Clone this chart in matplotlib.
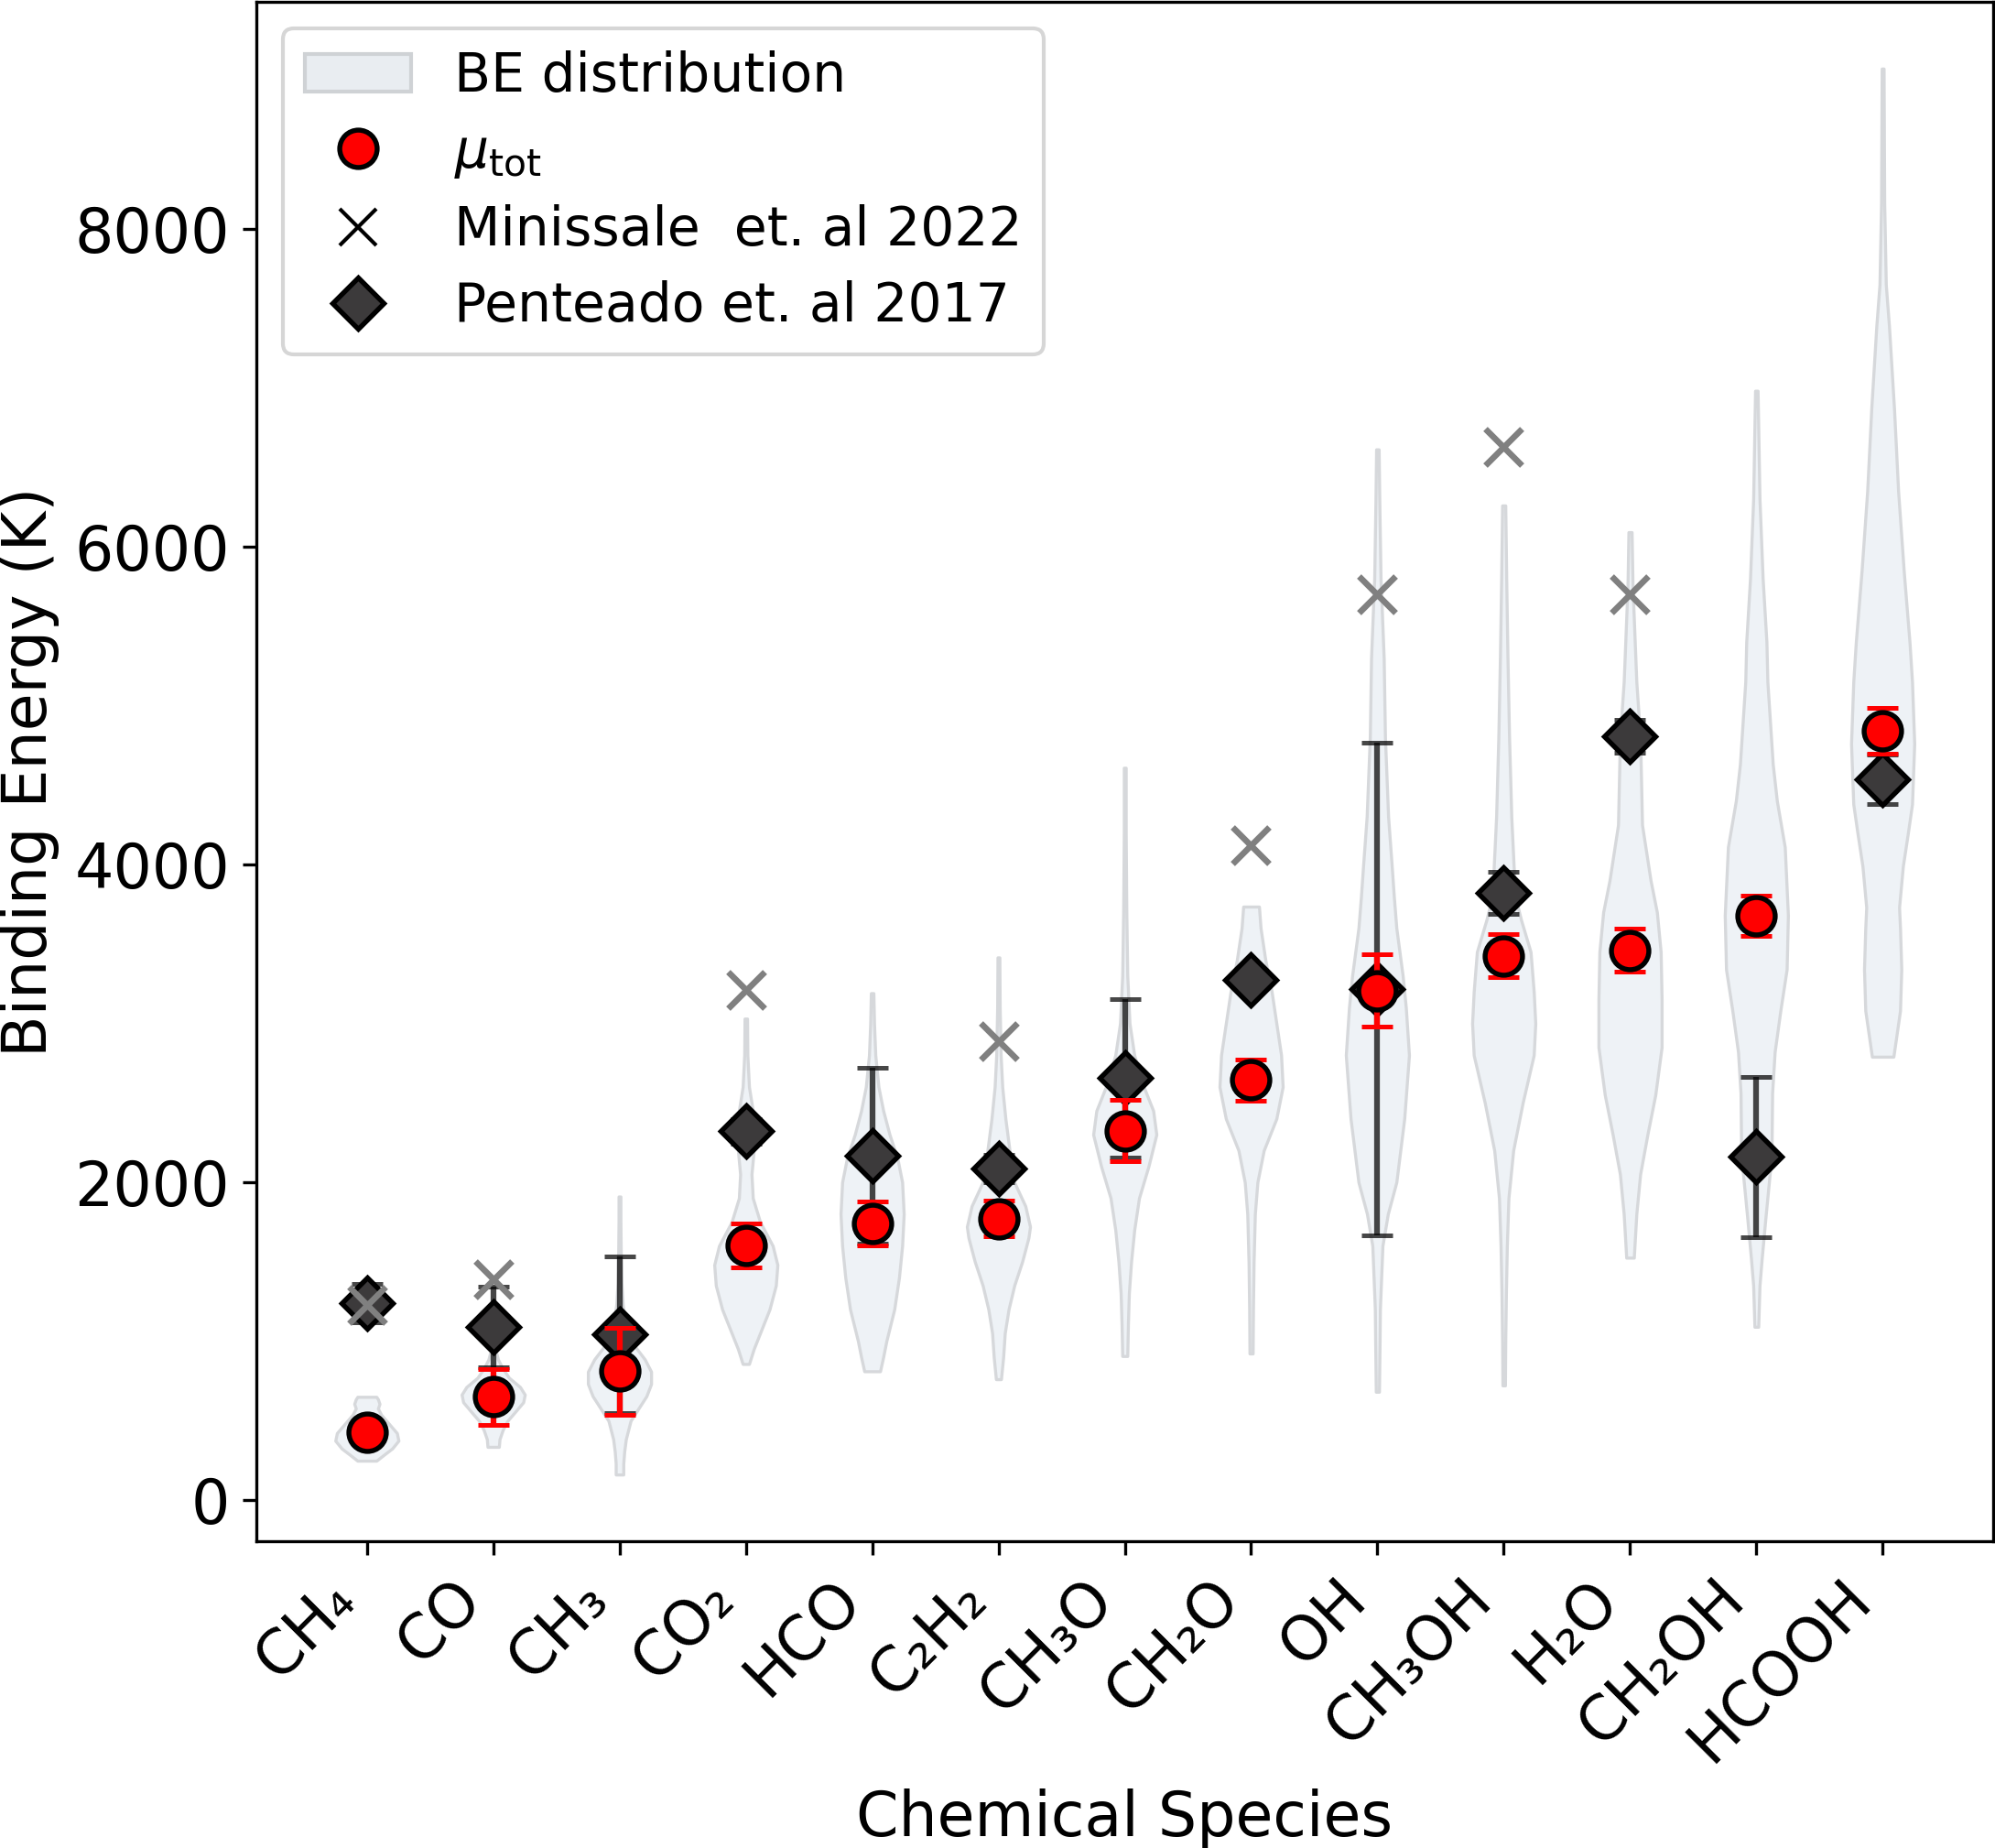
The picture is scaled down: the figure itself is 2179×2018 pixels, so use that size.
import numpy as np
import matplotlib
matplotlib.use('Agg')
import matplotlib.pyplot as plt
from matplotlib.lines import Line2D
from matplotlib.patches import Patch

# species on the x axis
species = ['CH₄', 'CO', 'CH₃', 'CO₂', 'HCO', 'C₂H₂', 'CH₃O', 'CH₂O',
           'OH', 'CH₃OH', 'H₂O', 'CH₂OH', 'HCOOH']

# mean binding energy (this work) and its error
mu_tot = [425, 649, 810, 1603, 1740, 1772, 2325, 2645, 3206, 3425, 3460, 3679, 4842]
mu_err = [70, 176, 275, 140, 137, 115, 195, 130, 228, 136, 137, 127, 145]

# literature values
minissale = [1230, 1390, np.nan, 3210, np.nan, 2890, np.nan, 4120,
             5700, 6630, 5700, np.nan, np.nan]
penteado = [1238, 1090, 1040, 2320, 2168, 2085, 2654, 3271, 3215, 3822, 4808, 2160, 4536]
penteado_err = [122, 255, 495, 77, 555, 87, 500, 60, 1550, 134, 103, 505, 153]

# BE distribution shapes: energy (K) and relative density
be_energy = {
    'CH₄': [247, 286, 324, 373, 421, 479, 537, 576, 605, 634, 649],
    'CO': [334, 382, 440, 498, 556, 615, 663, 711, 769, 827, 885, 924],
    'CH₃': [160, 228, 305, 382, 498, 576, 653, 730, 808, 885, 963, 1040, 1117,
            1233, 1369, 1562, 1755, 1910],
    'CO₂': [856, 950, 1050, 1200, 1350, 1480, 1600, 1750, 1900, 2050, 2200,
            2330, 2450, 2600, 2800, 3030],
    'HCO': [810, 900, 1000, 1200, 1400, 1600, 1800, 2000, 2150, 2300, 2450,
            2600, 2800, 3000, 3190],
    'C₂H₂': [760, 900, 1050, 1200, 1350, 1500, 1650, 1720, 1850, 2000, 2200,
             2400, 2600, 2800, 3100, 3415],
    'CH₃O': [906, 1100, 1300, 1500, 1700, 1900, 2100, 2300, 2450, 2600, 2800,
             3000, 3300, 3700, 4200, 4609],
    'CH₂O': [922, 1200, 1500, 1800, 2000, 2200, 2400, 2600, 2800, 3000, 3200,
             3400, 3600, 3735],
    'OH': [681, 1000, 1200, 1400, 1600, 1800, 2000, 2400, 2800, 3100, 3300,
           3600, 3800, 4000, 4300, 4800, 5300, 5800, 6300, 6613],
    'CH₃OH': [721, 1000, 1300, 1600, 1900, 2200, 2500, 2800, 3000, 3200, 3450,
              3650, 3800, 4300, 4800, 5300, 5800, 6260],
    'H₂O': [1525, 1800, 2050, 2300, 2550, 2850, 3150, 3450, 3700, 3900, 4250,
            4800, 5150, 5400, 5750, 6092],
    'CH₂OH': [1090, 1350, 1520, 1780, 2170, 2560, 2820, 3080, 3340, 3680, 4110,
              4400, 4630, 5150, 5400, 5800, 6300, 6982],
    'HCOOH': [2790, 3080, 3340, 3600, 3730, 3990, 4200, 4380, 4760, 5150, 5400,
              5840, 6350, 6870, 7390, 7650, 8160, 9010],
}
be_density = {
    'CH₄': [0.3, 0.55, 0.8, 1.0, 0.95, 0.7, 0.45, 0.35, 0.4, 0.35, 0.3],
    'CO': [0.18, 0.2, 0.3, 0.45, 0.7, 0.95, 1.0, 0.85, 0.5, 0.3, 0.15, 0.1],
    'CH₃': [0.12, 0.12, 0.15, 0.2, 0.35, 0.6, 0.85, 1.0, 1.0, 0.8, 0.5, 0.3,
            0.18, 0.1, 0.06, 0.04, 0.03, 0.03],
    'CO₂': [0.1, 0.25, 0.45, 0.75, 0.95, 1.0, 0.85, 0.45, 0.22, 0.18, 0.25,
            0.3, 0.22, 0.1, 0.05, 0.04],
    'HCO': [0.25, 0.35, 0.45, 0.7, 0.85, 0.95, 1.0, 0.95, 0.8, 0.55, 0.35,
            0.2, 0.1, 0.06, 0.04],
    'C₂H₂': [0.08, 0.15, 0.2, 0.32, 0.5, 0.75, 0.95, 1.0, 0.85, 0.5, 0.35,
             0.22, 0.12, 0.07, 0.04, 0.03],
    'CH₃O': [0.08, 0.1, 0.13, 0.2, 0.3, 0.45, 0.75, 1.0, 0.9, 0.6, 0.3,
             0.15, 0.08, 0.05, 0.03, 0.03],
    'CH₂O': [0.05, 0.06, 0.08, 0.12, 0.2, 0.4, 0.8, 1.0, 0.95, 0.8, 0.65,
             0.45, 0.3, 0.25],
    'OH': [0.05, 0.07, 0.08, 0.12, 0.16, 0.33, 0.6, 0.85, 1.0, 0.9, 0.8,
           0.6, 0.52, 0.45, 0.34, 0.24, 0.2, 0.1, 0.06, 0.04],
    'CH₃OH': [0.04, 0.05, 0.07, 0.1, 0.15, 0.3, 0.6, 0.95, 1.0, 0.95, 0.85,
              0.55, 0.36, 0.24, 0.17, 0.12, 0.08, 0.05],
    'H₂O': [0.12, 0.2, 0.32, 0.55, 0.8, 1.0, 1.0, 0.97, 0.85, 0.65, 0.38,
            0.32, 0.2, 0.15, 0.08, 0.05],
    'CH₂OH': [0.06, 0.1, 0.17, 0.29, 0.48, 0.5, 0.58, 0.76, 0.96, 1.0, 0.9,
              0.65, 0.52, 0.35, 0.32, 0.2, 0.1, 0.04],
    'HCOOH': [0.34, 0.55, 0.59, 0.55, 0.52, 0.64, 0.8, 0.93, 1.0, 0.93, 0.85,
              0.67, 0.49, 0.36, 0.2, 0.1, 0.05, 0.03],
}

x = np.arange(len(species))

fig = plt.figure(figsize=(2179 / 300, 2018 / 300), dpi=300)
ax = fig.add_axes([0.1285, 0.166, 0.8706, 0.833])

# violins built from the read density profiles
vpstats = []
for s in species:
    e = np.array(be_energy[s], dtype=float)
    d = np.array(be_density[s], dtype=float)
    vpstats.append({'coords': e, 'vals': d, 'mean': e.mean(), 'median': np.median(e),
                    'min': e.min(), 'max': e.max()})
parts = ax.violin(vpstats, positions=x, widths=0.5, showmeans=False,
                  showextrema=False, showmedians=False)
for body in parts['bodies']:
    body.set_facecolor('#eef2f6')
    body.set_edgecolor('#d6d8db')
    body.set_linewidth(0.8)
    body.set_alpha(1)
    body.set_zorder(1)

# Penteado error bars sit under the diamonds
ax.errorbar(x, penteado, yerr=penteado_err, fmt='none', ecolor='black', alpha=0.72,
            elinewidth=1.5, capsize=4, capthick=1.2, zorder=1.8)
ax.plot(x, penteado, 'D', color='#3c3a3b', markeredgecolor='black', markersize=9.5,
        markeredgewidth=1.3, linestyle='none', zorder=2)
ax.errorbar(x, mu_tot, yerr=mu_err, fmt='none', ecolor='red', elinewidth=1.5,
            capsize=4, capthick=1.2, zorder=2.2)
# Minissale crosses
ax.plot(x, minissale, 'x', color='gray', markersize=9.5, markeredgewidth=1.6,
        linestyle='none', zorder=2.6)
# this work
ax.plot(x, mu_tot, 'o', color='red', markeredgecolor='black', markersize=9.8,
        markeredgewidth=1.3, linestyle='none', zorder=3)

ax.set_xlim(-0.875, 12.875)
ax.set_ylim(-260, 9430)
ax.set_xticks(x)
ax.set_xticklabels(species, rotation=45, ha='right', fontsize=16)
ax.set_yticks([0, 2000, 4000, 6000, 8000])
ax.tick_params(axis='y', labelsize=16)
ax.set_xlabel('Chemical Species', fontsize=16)
ax.set_ylabel('Binding Energy (K)', fontsize=16)

handles = [
    Patch(facecolor='#e9edf1', edgecolor='#cfd2d5', label='BE distribution'),
    Line2D([], [], marker='o', color='red', markeredgecolor='black', markersize=9.8,
           markeredgewidth=1.3, linestyle='none', label=r'$\mu_{\rm tot}$'),
    Line2D([], [], marker='x', color='black', markersize=9.5, markeredgewidth=1,
           linestyle='none', label='Minissale  et. al 2022'),
    Line2D([], [], marker='D', color='#3c3a3b', markeredgecolor='black', markersize=9.5,
           markeredgewidth=1.3, linestyle='none', label='Penteado et. al 2017'),
]
ax.legend(handles=handles, loc='upper left', fontsize=14, labelspacing=0.45)

fig.savefig('out.png', dpi=300)
